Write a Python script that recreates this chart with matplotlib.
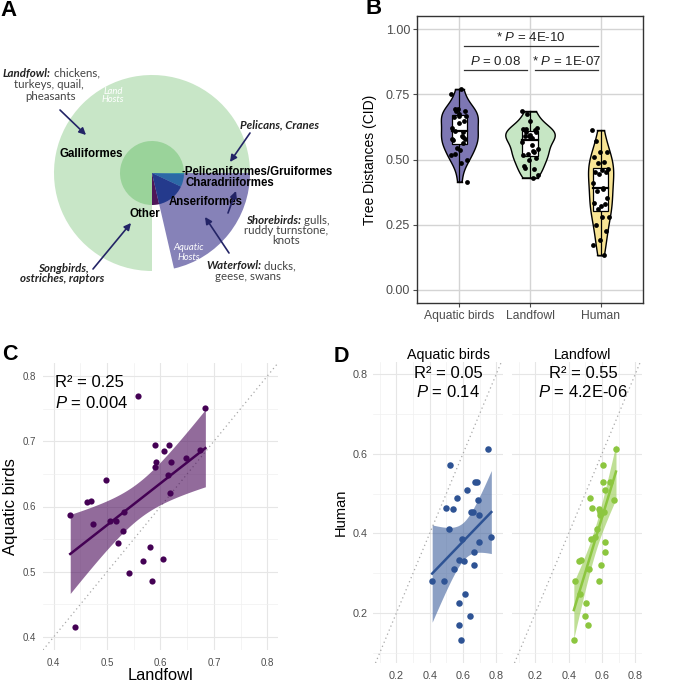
import numpy as np
import matplotlib
matplotlib.use('Agg')
import matplotlib.pyplot as plt
from matplotlib.patches import Wedge, Rectangle

plt.rcParams['font.family'] = ['Liberation Sans', 'DejaVu Sans']
plt.rcParams['mathtext.fontset'] = 'custom'
plt.rcParams['mathtext.rm'] = 'Liberation Sans'
plt.rcParams['mathtext.it'] = 'Liberation Sans:italic'

# ---- panel A: share of sequences by host order (inner) and host type (outer)
orders = ['Galliformes', 'Other', 'Anseriformes', 'Charadriiformes', 'Pelicaniformes/Gruiformes']
order_share = [75.0, 3.6, 14.4, 6.4, 0.6]
order_colors = ['#9ad39a', '#4e1759', '#243a8c', '#2c69a6', '#2f8fa8']
host_types = ['Land Hosts', 'Unassigned', 'Aquatic Hosts']
host_share = [75.0, 3.6, 21.4]
host_colors = ['#c8e6c7', None, '#8682b8']

# ---- panels B-D: tree distances (CID), paired by segment
aquatic = [0.751, 0.770, 0.520, 0.685, 0.674, 0.621, 0.563, 0.687, 0.498, 0.538,
           0.661, 0.648, 0.695, 0.516, 0.591, 0.695, 0.668, 0.668, 0.573, 0.607,
           0.544, 0.415, 0.486, 0.609, 0.578, 0.641, 0.578, 0.587]
landfowl = [0.684, 0.557, 0.604, 0.607, 0.647, 0.618, 0.529, 0.674, 0.541, 0.581,
            0.589, 0.614, 0.590, 0.567, 0.531, 0.615, 0.619, 0.592, 0.474, 0.463,
            0.521, 0.440, 0.584, 0.469, 0.506, 0.498, 0.516, 0.431]
human = [0.612, 0.392, 0.572, 0.530, 0.529, 0.508, 0.490, 0.485, 0.464, 0.461,
         0.453, 0.453, 0.446, 0.410, 0.387, 0.378, 0.353, 0.321, 0.333, 0.330,
         0.310, 0.281, 0.281, 0.249, 0.225, 0.192, 0.171, 0.133]
groups = ['Aquatic birds', 'Landfowl', 'Human']
violin_colors = ['#7d77b3', '#c6e6c4', '#f8e494']

# pairwise tests shown in B: (label, group i, group j)
b_tests = [('* $P$ = 4E-10', 0, 2), ('$P$ = 0.08', 0, 1), ('* $P$ = 1E-07', 1, 2)]
c_stats = ['R² = 0.25', '$P$ = 0.004']
d_stats = [['Aquatic birds', 'R² = 0.05', '$P$ = 0.14'],
           ['Landfowl', 'R² = 0.55', '$P$ = 4.2E-06']]

W, H = 685, 682
fig = plt.figure(figsize=(W / 100, H / 100), dpi=100)


def px_box(l, t, r, b):
    return [l / W, 1 - b / H, (r - l) / W, (b - t) / H]


def panel_letter(x, y, s, size=15.5):
    fig.text(x / W, 1 - y / H, s, fontsize=size, fontweight='bold', va='center', ha='left')


# ================= A =================
axA = fig.add_axes(px_box(0, 0, 340, 330))
axA.set_xlim(0, 340)
axA.set_ylim(330, 0)
axA.axis('off')
cx, cy = 152, 173


def draw_ring(shares, colors, radius):
    ang = np.concatenate([[0], np.cumsum(shares)]) * 3.6
    for a1, a2, c in zip(ang[:-1], ang[1:], colors):
        if c is None:
            continue
        # y axis is flipped, so visual angles are negated
        axA.add_patch(Wedge((cx, cy), radius, -a2, -a1, facecolor=c, edgecolor='none'))


draw_ring(host_share, host_colors, 98)
draw_ring(order_share, order_colors, 32)

ofs = 8.3
axA.text(91, 154, orders[0], ha='center', va='center', fontsize=ofs, fontweight='bold')
axA.text(182, 172, '-' + orders[4], ha='left', va='center', fontsize=ofs, fontweight='bold')
axA.text(185, 183, orders[3], ha='left', va='center', fontsize=ofs, fontweight='bold')
axA.text(206, 202, orders[2], ha='center', va='center', fontsize=ofs, fontweight='bold')
axA.text(145, 214, orders[1], ha='center', va='center', fontsize=ofs, fontweight='bold')

ann_font = ['Lato', 'Open Sans', 'DejaVu Sans']
for x, y, s in [(113, 91, 'Land'), (113, 100, 'Hosts'), (189, 248, 'Aquatic'), (189, 258, 'Hosts')]:
    axA.text(x, y, s, ha='center', va='center', fontsize=6.8, fontstyle='italic',
             color='white', family=ann_font)


def mixed(x, y, bold, rest, size=8.3):
    t1 = axA.text(x, y, bold, ha='left', va='center', fontsize=size, fontweight='bold',
                  fontstyle='italic', family=ann_font, color='#222222')
    if rest:
        axA.annotate(rest, xy=(1, 0.5), xycoords=t1, ha='left', va='center', fontsize=size,
                     family=ann_font, color='#444444')


def plain(x, y, s, bold=False, size=8.3):
    axA.text(x, y, s, ha='center', va='center', fontsize=size, family=ann_font,
             fontweight='bold' if bold else 'normal', fontstyle='italic' if bold else 'normal',
             color='#222222' if bold else '#444444')


mixed(3, 73, 'Landfowl:', ' chickens,')
plain(49, 85, 'turkeys, quail,')
plain(51, 96, 'pheasants')
plain(279, 125, 'Pelicans, Cranes', bold=True)
mixed(246, 221, 'Shorebirds:', ' gulls,')
plain(286, 231, 'ruddy turnstone,')
plain(286, 241, 'knots')
mixed(206, 266, 'Waterfowl:', ' ducks,')
plain(248, 276, 'geese, swans')
plain(63, 268, 'Songbirds,', bold=True)
plain(62, 278, 'ostriches, raptors', bold=True)

arrows = [((60, 110), (86, 135)), ((250, 133), (230, 162)), ((228, 213), (236, 191)),
          ((229, 253), (205, 217)), ((93, 269), (131, 223))]
for start, end in arrows:
    axA.annotate('', xy=end, xytext=start,
                 arrowprops=dict(arrowstyle='-|>', color='#232466', lw=1.2, mutation_scale=10,
                                 shrinkA=0, shrinkB=0))

# ================= B =================
axB = fig.add_axes(px_box(417, 16, 643, 303))
data = [np.array(aquatic), np.array(landfowl), np.array(human)]
pos = [1, 2, 3]

dens_list = []
for v in data:
    n = len(v)
    q1, q3 = np.percentile(v, [25, 75])
    bw = 0.9 * min(v.std(ddof=1), (q3 - q1) / 1.34) * n ** -0.2
    grid = np.linspace(v.min(), v.max(), 256)
    d = np.exp(-0.5 * ((grid[:, None] - v[None, :]) / bw) ** 2).sum(axis=1) / (n * bw * np.sqrt(2 * np.pi))
    dens_list.append((grid, d))
gmax = max(d.max() for _, d in dens_list)

for i, (grid, d) in enumerate(dens_list):
    hw = d / gmax * 0.35
    axB.fill_betweenx(grid, pos[i] - hw, pos[i] + hw, facecolor=violin_colors[i],
                      edgecolor='black', lw=1.0, zorder=2)
    axB.plot([pos[i] - hw[0], pos[i] + hw[0]], [grid[0]] * 2, color='black', lw=1.0, zorder=2)
    axB.plot([pos[i] - hw[-1], pos[i] + hw[-1]], [grid[-1]] * 2, color='black', lw=1.0, zorder=2)

for i, v in enumerate(data):
    q1, med, q3 = np.percentile(v, [25, 50, 75])
    iqr = q3 - q1
    lo = v[v >= q1 - 1.5 * iqr].min()
    hi = v[v <= q3 + 1.5 * iqr].max()
    axB.plot([pos[i], pos[i]], [lo, q1], color='black', lw=0.9, zorder=3)
    axB.plot([pos[i], pos[i]], [q3, hi], color='black', lw=0.9, zorder=3)
    axB.add_patch(Rectangle((pos[i] - 0.11, q1), 0.22, iqr, facecolor='white',
                            edgecolor='black', lw=0.9, zorder=3))
    axB.plot([pos[i] - 0.11, pos[i] + 0.11], [med, med], color='black', lw=1.6, zorder=3)
    jit = ((np.arange(len(v)) * 0.618034) % 1 - 0.5) * 0.24
    axB.scatter(pos[i] + jit, v, s=12, color='black', zorder=4, linewidths=0)

levels = [0.935, 0.843, 0.843]
for (lab, a, b), lev in zip(b_tests, levels):
    axB.plot([pos[a] + 0.07, pos[b] - 0.04], [lev, lev], color='#333333', lw=0.9)
    axB.text((pos[a] + pos[b]) / 2 + 0.015, lev + 0.032, lab, ha='center', va='center',
             fontsize=9.5, color='#222222')

axB.set_xlim(0.4, 3.6)
axB.set_ylim(-0.05, 1.05)
axB.set_xticks(pos)
axB.set_xticklabels(groups)
axB.set_yticks([0, 0.25, 0.5, 0.75, 1.0])
axB.set_yticklabels(['0.00', '0.25', '0.50', '0.75', '1.00'])
axB.tick_params(labelsize=9, colors='#4d4d4d', length=3, width=0.8, pad=2)
axB.tick_params(axis='x', labelsize=8.7)
axB.grid(True, color='#d4d4d4', lw=1.0)
axB.set_axisbelow(True)
for sp in axB.spines.values():
    sp.set_color('#333333')
    sp.set_linewidth(1.0)
axB.set_ylabel('Tree Distances (CID)', fontsize=10, labelpad=6)


# ================= C / D helpers =================
def ols_band(x, y, t_crit=2.056):
    x = np.asarray(x)
    y = np.asarray(y)
    n = len(x)
    b1, b0 = np.polyfit(x, y, 1)
    res = y - (b0 + b1 * x)
    s = np.sqrt((res ** 2).sum() / (n - 2))
    xs = np.linspace(x.min(), x.max(), 100)
    fit = b0 + b1 * xs
    se = s * np.sqrt(1 / n + (xs - x.mean()) ** 2 / ((x - x.mean()) ** 2).sum())
    return xs, fit, fit - t_crit * se, fit + t_crit * se


def minimal(ax, major, minor, tsize):
    for sp in ax.spines.values():
        sp.set_visible(False)
    ax.set_xticks(major)
    ax.set_yticks(major)
    ax.set_xticks(minor, minor=True)
    ax.set_yticks(minor, minor=True)
    ax.grid(True, which='major', color='#e6e6e6', lw=0.8)
    ax.grid(True, which='minor', color='#f0f0f0', lw=0.5)
    ax.set_axisbelow(True)
    ax.tick_params(which='both', length=0, labelsize=tsize, colors='#4d4d4d')
    ax.tick_params(axis='x', pad=6)
    ax.tick_params(axis='y', pad=5)
    ax.axline((0, 0), (1, 1), color='#a8a8a8', lw=0.9, ls=(0, (1, 2.5)), zorder=1)


# ================= C =================
axC = fig.add_axes(px_box(43, 363, 278, 650))
minimal(axC, [0.4, 0.5, 0.6, 0.7, 0.8], [0.45, 0.55, 0.65, 0.75], 7)
axC.set_xlim(0.38, 0.82)
axC.set_ylim(0.38, 0.82)
xs, fit, lo, hi = ols_band(landfowl, aquatic)
axC.fill_between(xs, lo, hi, color='#440154', alpha=0.58, lw=0, zorder=2)
axC.plot(xs, fit, color='#440154', lw=1.8, zorder=3)
axC.scatter(landfowl, aquatic, s=20, color='#440154', zorder=4, linewidths=0)
axC.set_xlabel('Landfowl', fontsize=11.8, labelpad=0)
axC.set_ylabel('Aquatic birds', fontsize=12, labelpad=3)
axC.text(0.403, 0.790, c_stats[0], fontsize=12, va='center', ha='left')
axC.text(0.403, 0.759, c_stats[1], fontsize=12, va='center', ha='left')

# ================= D =================
d_boxes = [(373, 362, 503, 663), (512, 362, 642, 663)]
d_x = [aquatic, landfowl]
d_colors = ['#2e5394', '#8cc63f']
d_text_x = [0.577, 0.546]
for k in range(2):
    ax = fig.add_axes(px_box(*d_boxes[k]))
    minimal(ax, [0.2, 0.4, 0.6, 0.8], [0.1, 0.3, 0.5, 0.7], 7.8)
    ax.set_xlim(0.06, 0.84)
    ax.set_ylim(0.075, 0.83)
    xs, fit, lo, hi = ols_band(d_x[k], human)
    ax.fill_between(xs, lo, hi, color=d_colors[k], alpha=0.55, lw=0, zorder=2)
    ax.plot(xs, fit, color=d_colors[k], lw=1.8, zorder=3)
    ax.scatter(d_x[k], human, s=22, color=d_colors[k], zorder=4, linewidths=0)
    ax.tick_params(axis='y', pad=4)
    if k == 0:
        ax.set_ylabel('Human', fontsize=10.5, labelpad=3)
    else:
        ax.tick_params(axis='y', labelleft=False)
    tx = d_text_x[k]
    ax.text(tx, 1.023, d_stats[k][0], transform=ax.transAxes, ha='center', va='center', fontsize=10.3)
    ax.text(tx, 0.963, d_stats[k][1], transform=ax.transAxes, ha='center', va='center', fontsize=12)
    ax.text(tx, 0.900, d_stats[k][2], transform=ax.transAxes, ha='center', va='center', fontsize=12)

panel_letter(0, 10, 'A', 16)
panel_letter(366, 9, 'B', 16)
panel_letter(2, 354, 'C')
panel_letter(334, 356, 'D')

fig.savefig('out.png', dpi=100, facecolor='white')
